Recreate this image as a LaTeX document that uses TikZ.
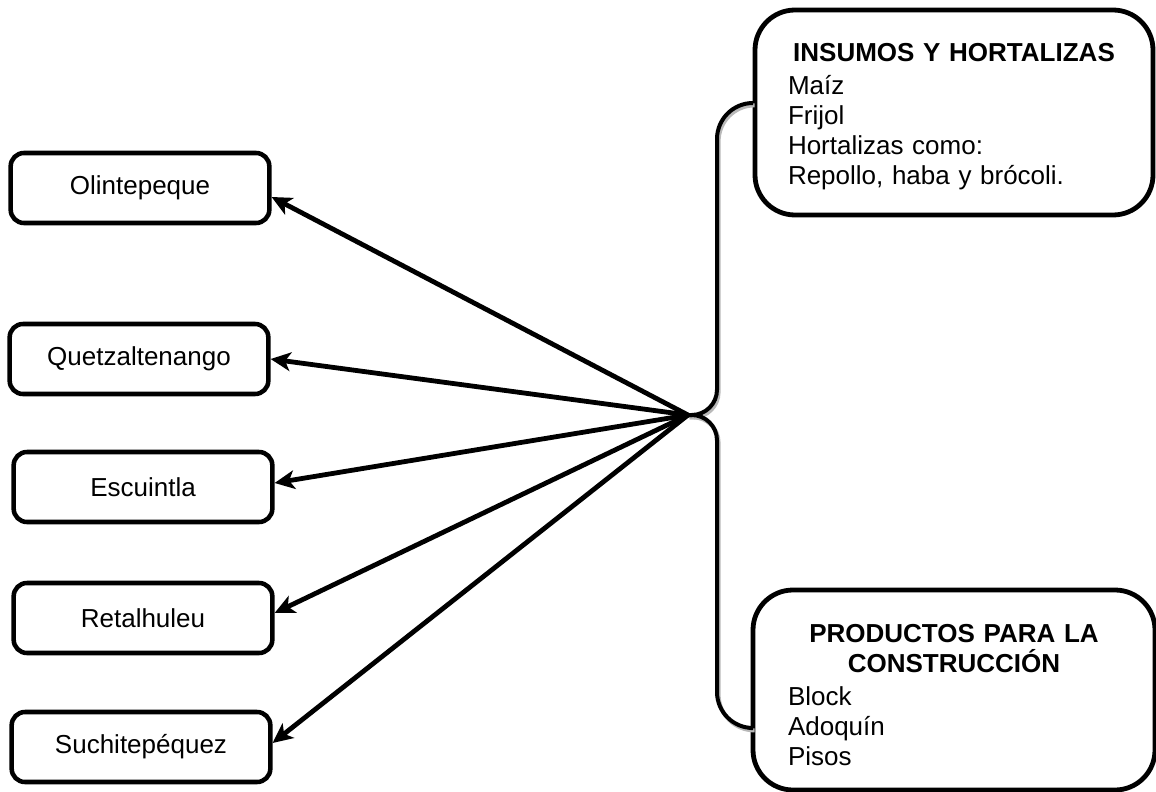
\documentclass[tikz,border=0pt]{standalone}
\usepackage{fontspec}
\setmainfont{Liberation Sans}
\usetikzlibrary{arrows.meta,calc}
\begin{document}
\begin{tikzpicture}[x=0.75pt,y=-0.75pt,
  every node/.style={font=\fontsize{19.5pt}{22.5pt}\selectfont},
  place/.style={draw, line width=3.4pt, rounded corners=10pt,
    minimum width=194pt, minimum height=52.5pt, inner sep=0pt},
  groupbox/.style={draw, line width=3.6pt, rounded corners=30pt, inner sep=0pt},
  grouptext/.style={inner sep=0pt, text width=249pt, align=left},
  link/.style={line width=3.6pt, -{Stealth[length=15pt,width=14pt,inset=4pt]}},
  bracket/.style={line width=3pt, black},
  bracketshade/.style={line width=3pt, gray!55,
    transform canvas={xshift=1.2pt,yshift=-1.8pt}},
]
\useasboundingbox (0,0) rectangle (1156,792);

% destinations
\node[place] (olin)  at (140,188) {Olintepeque};
\node[place] (quetz) at (139,359) {Quetzaltenango};
\node[place] (escu)  at (143,487) {Escuintla};
\node[place] (reta)  at (143,618) {Retalhuleu};
\node[place] (suchi) at (141,747) {Suchitepéquez};

% product groups
\node[groupbox, minimum width=298.5pt, minimum height=153.75pt] (ins) at (954,112.5) {};
\node[grouptext] (instext) at ($(ins.center)+(0,4)$)
  {\centerline{\bfseries INSUMOS Y HORTALIZAS}\vspace{2.25pt}
   Maíz\\Frijol\\Hortalizas como:\\Repollo, haba y brócoli.};
\node[groupbox, minimum width=301.5pt, minimum height=150pt] (prod) at (954,690) {};
\node[grouptext] (prodtext) at ($(prod.center)+(0,5)$)
  {\centerline{\bfseries PRODUCTOS PARA LA}
   \centerline{\bfseries CONSTRUCCIÓN}\vspace{2.25pt}
   Block\\Adoquín\\Pisos};

% brace joining the two groups
\coordinate (hub) at (688,415);
\coordinate (bt) at (ins.west |- 0,103);
\coordinate (bb) at (prod.west |- 0,728);
\coordinate (bu) at (717,300);
\coordinate (bl) at (717,550);
\foreach \st in {bracketshade,bracket}{
  \draw[\st] (bt) [rounded corners=27pt] -| (bu) [rounded corners=19pt] |- (hub);
  \draw[\st] (hub) [rounded corners=19pt] -| (bl) [rounded corners=27pt] |- (bb);
}

% arrows to each destination
\draw[link] (hub) -- ($(olin.east)+(0,9)$);
\draw[link] (hub) -- (quetz.east);
\draw[link] (hub) -- ($(escu.east)+(0,-4)$);
\draw[link] (hub) -- ($(reta.east)+(0,-5)$);
\draw[link] (hub) -- ($(suchi.east)+(0,-4)$);
\end{tikzpicture}
\end{document}
